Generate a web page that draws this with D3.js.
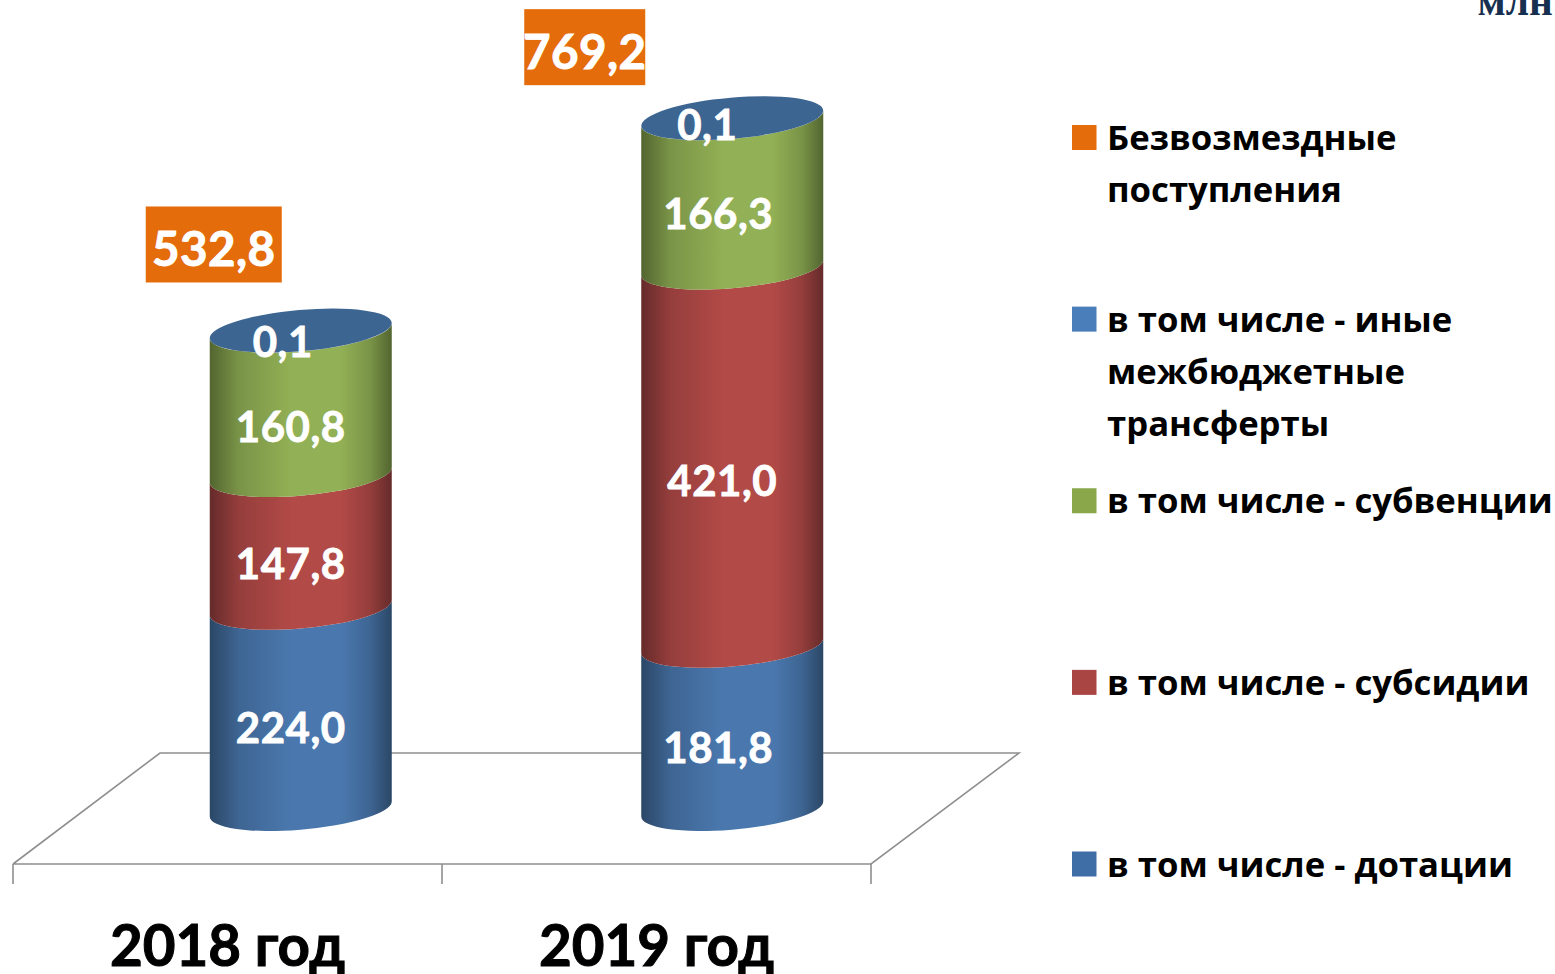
<!DOCTYPE html>
<html><head><meta charset="utf-8">
<style>html,body{margin:0;padding:0;background:#fff;overflow:hidden}svg{display:block}text{font-family:Lato,"Open Sans","Noto Sans",sans-serif;font-weight:700}</style>
<script src="https://cdn.jsdelivr.net/npm/d3@7/dist/d3.min.js"></script>
</head><body><svg id="c" width="1555" height="974"></svg>
<script>
const categories = ["2018 год", "2019 год"];
const seriesNames = ["в том числе - дотации", "в том числе - субсидии", "в том числе - субвенции", "в том числе - иные межбюджетные трансферты"];
const dotacii = [224.0, 181.8];
const subsidii = [147.8, 421.0];
const subvencii = [160.8, 166.3];
const inye = [0.1, 0.1];
const totals = [532.8, 769.2];
const legendLines = [["Безвозмездные", "поступления"], ["в том числе - иные", "межбюджетные", "трансферты"], ["в том числе - субвенции"], ["в том числе - субсидии"], ["в том числе - дотации"]];
const legendColors = ["#e46c0a", "#4a7ebb", "#8aa84a", "#a94542", "#3f6ea6"];
const fmt = v => v.toFixed(1).replace(".", ",");

const svg = d3.select("#c");
const defs = svg.append("defs");
const ramps = [["#2b4766", "#4a78ae"], ["#652b2a", "#b24a47"], ["#526530", "#92b055"]];
ramps.forEach((r, i) => {
  const g = defs.append("linearGradient").attr("id", "g" + i);
  const mid = d3.interpolateRgb(r[0], r[1])(0.62);
  [[0, r[0]], [.16, mid], [.45, r[1]], [.72, r[1]], [.88, mid], [1, r[0]]].forEach(s =>
    g.append("stop").attr("offset", s[0]).attr("stop-color", s[1]));
});

const front = d3.scaleBand().domain(categories).range([13, 871]);
const back = d3.scaleBand().domain(categories).range([85, 948]);
const y = d3.scaleLinear().domain([0, 800]).range([809, 809 - 718.5]);
const halfW = 91, tilt = 7.5, rx = 91.3, ry = 20.6, rot = -5;

// floor
const floorColor = "#8f8f8f";
const floor = svg.append("g").attr("fill", "none").attr("stroke", floorColor).attr("stroke-width", 1.6);
floor.append("path").attr("d", d3.line()([[13, 864], [160, 753], [1019, 753], [871, 864], [13, 864]]));
[13, 13 + front.step(), 13 + 2 * front.step()].forEach(x =>
  floor.append("line").attr("x1", x).attr("x2", x).attr("y1", 864).attr("y2", 884));

// axis labels
svg.append("g").selectAll("text").data(categories).join("text")
  .attr("x", d => front(d) + front.bandwidth() / 2).attr("y", 966)
  .attr("text-anchor", "middle").attr("font-size", 56.5).attr("fill", "#000")
  .attr("stroke", "#000").attr("stroke-width", 1).text(d => d);

// cylinders
const stacks = [dotacii, subsidii, subvencii];
categories.forEach((c, i) => {
  const cx = back(c) + back.bandwidth() / 2;
  let cum = 0;
  const g = svg.append("g");
  stacks.forEach((s, k) => {
    const y0 = y(cum), y1 = y(cum + s[i]);
    cum += s[i];
    g.append("path").attr("fill", `url(#g${k})`).attr("d",
      `M${cx - halfW},${y0 + tilt}A${rx},${ry} ${rot} 0 0 ${cx + halfW},${y0 - tilt}` +
      `L${cx + halfW},${y1 - tilt}A${rx},${ry} ${rot} 0 1 ${cx - halfW},${y1 + tilt}Z`);
  });
  const yt = y(cum + inye[i]);
  g.append("ellipse").attr("cx", cx).attr("cy", yt).attr("rx", rx).attr("ry", ry)
    .attr("transform", `rotate(${rot} ${cx} ${yt})`).attr("fill", "#3d6592");
});

// value labels
const labelNudgeX = [[-10, -10, -10, -18], [-14, -10, -14, -25]];
const labelNudgeY = [[34.5, 37.5, 39.5, 26], [36, 39, 36, 22]];
categories.forEach((c, i) => {
  const cx = back(c) + back.bandwidth() / 2;
  let cum = 0;
  [dotacii, subsidii, subvencii, inye].forEach((s, k) => {
    const ym = y(cum + s[i] / 2);
    cum += s[i];
    svg.append("text").attr("x", cx + labelNudgeX[i][k]).attr("y", ym + labelNudgeY[i][k])
      .attr("text-anchor", "middle").attr("font-size", 42).attr("letter-spacing", 0.5).attr("fill", "#fff")
      .attr("stroke", "#fff").attr("stroke-width", 0.8).text(fmt(s[i]));
  });
});

// total boxes
const boxW = [136, 121], boxDx = [-87, -147.5], boxDy = [-124, -109];
categories.forEach((c, i) => {
  const cx = back(c) + back.bandwidth() / 2, yt = y(totals[i]);
  const bx = cx + boxDx[i] - boxW[i] / 2, by = yt + boxDy[i];
  svg.append("rect").attr("x", bx).attr("y", by).attr("width", boxW[i]).attr("height", 76).attr("fill", "#e46c0a");
  svg.append("text").attr("x", bx + boxW[i] / 2).attr("y", by + 60).attr("text-anchor", "middle")
    .attr("font-size", 47.5).attr("letter-spacing", 0.4).attr("fill", "#fff").attr("stroke", "#fff").attr("stroke-width", 0.9).text(fmt(totals[i]));
});

// legend
const legendY = d3.scalePoint().domain(d3.range(legendLines.length)).range([137.5, 864]);
legendLines.forEach((lines, i) => {
  const cy = legendY(i);
  svg.append("rect").attr("x", 1072).attr("y", cy - 12.5).attr("width", 24.5).attr("height", 25).attr("fill", legendColors[i]);
  lines.forEach((t, j) => svg.append("text").attr("x", 1107).attr("y", cy + 12.5 + j * 52)
    .style("font-family", "'Open Sans',sans-serif").attr("font-size", 34.7).attr("fill", "#000").text(t));
});

svg.append("text").attr("x", 1553).attr("y", 15).attr("text-anchor", "end")
  .style("font-family", "'Liberation Serif',serif").attr("font-size", 41.5).attr("fill", "#17304f").text("млн");
</script></body></html>
